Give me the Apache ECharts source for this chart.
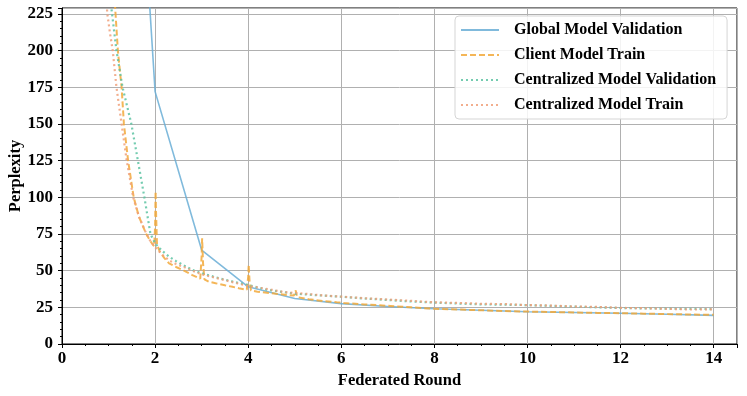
<!DOCTYPE html>
<html>
<head>
<meta charset="utf-8">
<title>Perplexity</title>
<script src="https://cdn.jsdelivr.net/npm/echarts@6/dist/echarts.min.js"></script>
<style>
	html, body { margin: 0; padding: 0; background: #fff; }
	#chart { width: 747px; height: 396px; }
</style>
</head>
<body>
<div id="chart"></div>
<script>
// values
const legendNames = ['Global Model Validation', 'Client Model Train', 'Centralized Model Validation', 'Centralized Model Train'];

const globalRounds = [1, 2, 3, 4, 5, 6, 7, 8, 9, 10, 11, 12, 13, 14];
const globalPpl = [676, 172, 64, 39, 31, 27.5, 25.6, 24, 23, 22, 21.5, 21, 20.3, 19.5];

const clientRounds = [1.05, 1.1, 1.2, 1.28, 1.33, 1.42, 1.54, 1.65, 1.81, 1.9, 1.98, 2.0, 2.01, 2.02, 2.04,
	2.1, 2.2, 2.3, 2.45, 2.6, 2.8, 2.97, 3.0, 3.01, 3.03, 3.06, 3.15, 3.3, 3.5, 3.66, 3.8, 3.97,
	4.0, 4.01, 4.03, 4.06, 4.2, 4.4, 4.6, 4.85, 4.98, 5.0, 5.02, 5.05, 5.3, 5.6, 5.9, 6.0, 6.02, 6.06,
	6.5, 7.0, 7.02, 7.06, 7.5, 8.0, 8.5, 9.0, 9.5, 10.0, 10.5, 11.0, 11.02, 11.06, 11.5, 12.0, 12.5, 13.0, 13.5, 14.0];
const clientPpl = [300, 250, 200, 175, 150, 125, 100, 87, 75, 70, 66.5, 80, 104, 90, 68,
	63, 58.5, 55, 52.5, 50.4, 47, 44.5, 60, 72, 55, 44, 42.5, 41.4, 40, 39, 38, 37,
	46, 54, 42, 36.5, 35.6, 35, 34.2, 33.4, 33, 35, 36.5, 32, 30.5, 29.3, 28.4, 28.2, 29.5, 27.9,
	27, 26, 27, 25.9, 25, 24, 23.5, 23, 22.5, 22.1, 21.8, 21.5, 22.5, 21.4, 21.2, 21, 20.7, 20.4, 20.1, 19.9];

const centralValRounds = [1.0, 1.06, 1.17, 1.3, 1.49, 1.63, 1.77, 1.9, 2.0, 2.15, 2.3, 2.45, 2.6, 2.8, 3.0,
	3.3, 3.6, 4.0, 4.4, 5.0, 5.5, 6.0, 6.5, 7.0, 7.5, 8.0, 8.5, 9.0, 9.5, 10.0, 10.5, 11.0, 11.5, 12.0,
	12.5, 13.0, 13.5, 14.0];
const centralValPpl = [262, 229, 200, 175, 150, 125, 100, 75, 68.5, 63.5, 59.5, 56.5, 53.8, 50.5, 48.2,
	45.5, 43, 40.2, 37, 34.3, 33.2, 32.2, 31, 30, 29, 28.2, 27.6, 27, 26.8, 26.5, 26, 25.5, 25, 24.5,
	24.3, 24.1, 23.9, 23.8];

const centralTrainRounds = [0.93, 0.97, 1.03, 1.09, 1.17, 1.28, 1.39, 1.53, 1.65, 1.8, 1.9, 2.0, 2.15, 2.3,
	2.45, 2.6, 2.8, 3.0, 3.25, 3.5, 3.75, 4.0, 4.25, 4.5, 4.75, 5.0, 5.25, 5.5, 5.75, 6.0, 6.5, 7.0, 7.5,
	8.0, 8.5, 9.0, 9.5, 10.0, 10.5, 11.0, 11.5, 12.0, 12.5, 13.0, 13.5, 14.0];
const centralTrainPpl = [262, 226, 212, 200, 175, 150, 125, 100, 87, 76, 70, 66, 61, 57,
	54.5, 52.7, 50, 47.5, 45.5, 43.5, 41.5, 39.5, 38.3, 37, 35.5, 34.8, 34.2, 33.4, 32.8, 32.3, 31.2, 30.3, 29.4,
	28.4, 28.0, 27.4, 27.2, 26.5, 26.2, 25.5, 25.3, 24.6, 24.4, 24.0, 23.5, 23.6];

const font = "'Liberation Serif', 'DejaVu Serif', serif";

function pairs(xs, ys) {
	return xs.map((x, i) => [x, ys[i]]);
}

function lineSeries(name, data, color, width, type) {
	return {
		name: name,
		type: 'line',
		data: data,
		symbol: 'none',
		showSymbol: false,
		animation: false,
		lineStyle: { color: color, width: width, type: type, opacity: 0.85 },
		itemStyle: { color: color }
	};
}

const chart = echarts.init(document.getElementById('chart'));

const option = {
	animation: false,
	grid: {
		left: 62,
		right: 10,
		top: 8,
		bottom: 52,
		outerBoundsMode: 'none',
		show: true,
		borderColor: '#000',
		borderWidth: 1
	},
	legend: {
		orient: 'vertical',
		left: 455,
		top: 16,
		padding: [6, 11, 6, 5],
		itemWidth: 38,
		itemHeight: 14,
		itemGap: 9,
		backgroundColor: 'rgba(255,255,255,0.85)',
		borderColor: '#d5d5d5',
		borderWidth: 1,
		borderRadius: 4,
		data: legendNames,
		// only the line sample, no marker
		itemStyle: { opacity: 0 },
		textStyle: {
			fontFamily: font,
			fontWeight: 'bold',
			fontSize: 16,
			color: '#000',
			padding: [0, 0, 0, 10]
		}
	},
	xAxis: {
		type: 'value',
		min: 0,
		max: 14.5,
		interval: 2,
		name: 'Federated Round',
		nameLocation: 'middle',
		nameGap: 28,
		nameMoveOverlap: false,
		nameTextStyle: { fontFamily: font, fontWeight: 'bold', fontSize: 16.5, color: '#000' },
		axisLine: { lineStyle: { color: '#000', width: 1 } },
		axisTick: { show: true, length: 4, lineStyle: { color: '#000' } },
		minorTick: { show: true, splitNumber: 4, length: 2, lineStyle: { color: '#000' } },
		axisLabel: { showMaxLabel: false, margin: 6, fontFamily: font, fontWeight: 'bold', fontSize: 17, color: '#000' },
		splitLine: { show: true, lineStyle: { color: '#b0b0b0', width: 1 } }
	},
	yAxis: {
		type: 'value',
		min: 0,
		max: 229,
		interval: 25,
		name: 'Perplexity',
		nameLocation: 'middle',
		nameGap: 38,
		nameMoveOverlap: false,
		nameTextStyle: { fontFamily: font, fontWeight: 'bold', fontSize: 16.5, color: '#000' },
		axisLine: { show: true, lineStyle: { color: '#000', width: 1 } },
		axisTick: { show: true, length: 4, lineStyle: { color: '#000' } },
		minorTick: { show: true, splitNumber: 5, length: 2, lineStyle: { color: '#000' } },
		axisLabel: { showMaxLabel: false, margin: 9, fontFamily: font, fontWeight: 'bold', fontSize: 17, color: '#000' },
		splitLine: { show: true, lineStyle: { color: '#b0b0b0', width: 1 } }
	},
	series: [
		lineSeries(legendNames[0], pairs(globalRounds, globalPpl), '#6aaed6', 1.6, 'solid'),
		lineSeries(legendNames[1], pairs(clientRounds, clientPpl), '#f2a93b', 2, [6, 3]),
		lineSeries(legendNames[2], pairs(centralValRounds, centralValPpl), '#5cc3a2', 2.2, [2, 3]),
		lineSeries(legendNames[3], pairs(centralTrainRounds, centralTrainPpl), '#f0a07a', 2.2, [2, 3])
	]
};

chart.setOption(option);
</script>
</body>
</html>
